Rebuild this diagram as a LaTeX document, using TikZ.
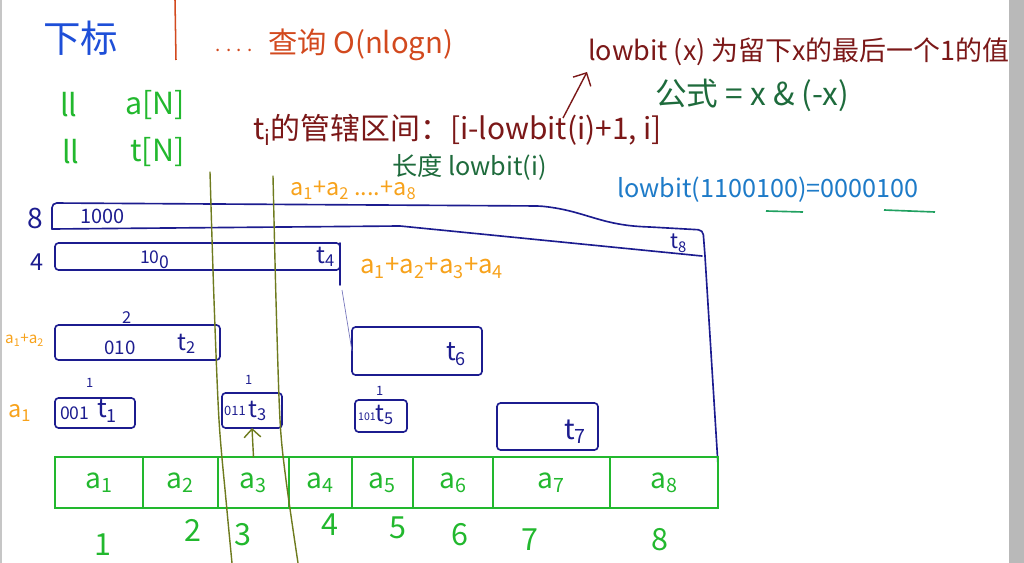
\documentclass[tikz,border=0pt]{standalone}
\usepackage{fontspec}
\setmainfont{Noto Sans CJK SC}
\usepackage{tikz}
\usetikzlibrary{arrows.meta, positioning}

\definecolor{xiablue}{HTML}{1E4FD8}
\definecolor{qred}{HTML}{D2491E}
\definecolor{maroon}{HTML}{7B1818}
\definecolor{dkgreen}{HTML}{1E6B3C}
\definecolor{lgreen}{HTML}{22B82E}
\definecolor{orng}{HTML}{F7A21B}
\definecolor{navy}{HTML}{1C1C8F}
\definecolor{sky}{HTML}{1E7BC8}
\definecolor{olivel}{HTML}{6E7B1E}
\definecolor{ulgreen}{HTML}{20A060}

\begin{document}
\begin{tikzpicture}[
  x=0.03cm, y=-0.03cm,
  txt/.style={inner sep=0pt, anchor=west, text=#1},
  fs/.style={font=\fontsize{#1}{#1}\selectfont},
  tbox/.style 2 args={
    draw=navy, line width=1.4pt, rounded corners=3pt, inner sep=0pt, outer sep=0pt,
    minimum width=#1*0.03cm, minimum height=#2*0.03cm
  },
  cell/.style={
    draw=lgreen, line width=1.4pt, inner sep=0pt, outer sep=0pt, text=lgreen,
    minimum height=51*0.03cm, font=\fontsize{24}{24}\selectfont
  },
  navyline/.style={draw=navy, line width=1.4pt, line cap=round, line join=round},
  oliveline/.style={draw=olivel, line width=1.2pt, line cap=round}
]
\useasboundingbox (0,0) rectangle (1024,563);

% window edges
\fill[gray!45] (0,0) rectangle (2,563);
\fill[gray!55] (1009,0) rectangle (1024,563);

% top left notes
\node[txt=xiablue, fs=32] (xiabiao) at (43,38) {下标};
\draw[qred, line width=1.3pt] (175,0) -- (176,60);
\node[txt=qred, fs=16] (dots) at (215,50) {. . . .};
\node[txt=qred, fs=25] (query) at (268,45) {查询 O(nlogn)};
\node[txt=lgreen, fs=26] (llA) at (60,105) {ll};
\node[txt=lgreen, fs=26] (arrA) at (125,105) {a[N]};
\node[txt=lgreen, fs=26] (llT) at (62,152) {ll};
\node[txt=lgreen, fs=26] (arrT) at (130,152) {t[N]};

% range of t_i
\node[txt=maroon, fs=25.5] (range) at (253,130) {t\textsubscript{i}的管辖区间：[i-lowbit(i)+1, i]};
\node[txt=dkgreen, fs=21.5] (length) at (392,167) {长度 lowbit(i)};

% lowbit definition
\node[txt=maroon, fs=23] (lowbitdef) at (588,52) {lowbit (x) 为留下x的最后一个1的值};
\node[txt=dkgreen, fs=27] (formula) at (655,95) {公式 = x \& (-x)};
\coordinate (arrtail) at (563,118);
\draw[maroon, line width=1.2pt, -{Straight Barb[length=3mm]}] (arrtail) -- (587,72);
\node[txt=sky, fs=21.5] (example) at (617,190) {lowbit(1100100)=0000100};
\draw[ulgreen, line width=1.4pt] (766,211) -- (803,212);
\draw[ulgreen, line width=1.4pt] (884,210) -- (935,212);

% sums
\node[txt=orng, fs=20] (sum8) at (290,190) {a\textsubscript{1}+a\textsubscript{2} ....+a\textsubscript{8}};
\node[txt=orng, fs=22] (sum4) at (360,268) {a\textsubscript{1}+a\textsubscript{2}+a\textsubscript{3}+a\textsubscript{4}};
\node[txt=orng, fs=13] (sum2) at (5,340) {a\textsubscript{1}+a\textsubscript{2}};
\node[txt=orng, fs=20] (sum1) at (8,413) {a\textsubscript{1}};

% row numbers
\node[txt=navy, fs=24] (row8) at (27,218) {8};
\node[txt=navy, fs=20] (row4) at (30,262) {4};

% t8 strip
\draw[navyline, rounded corners=4pt]
  (52,229) -- (52,203) -- (540,206) .. controls (585,211) and (600,225) .. (650,227)
  -- (703,230) -- (705,256);
\draw[navyline] (52,229) -- (400,226) -- (702,256);
\draw[navyline] (705,256) -- (718,465);
\node[txt=navy, fs=17] (lab1000) at (80,216) {1000};
\node[txt=navy, fs=18] (t8) at (670,243) {t\textsubscript{8}};

% tree boxes
\node[tbox={285}{27}] (t4) at (197.5,256.5) {};
\node[tbox={165}{35}] (t2) at (137.5,342.5) {};
\node[tbox={130}{48}] (t6) at (417,351) {};
\node[tbox={80}{30}]  (t1) at (95,413) {};
\node[tbox={60}{35}]  (t3) at (252,410.5) {};
\node[tbox={52}{32}]  (t5) at (381,416) {};
\node[tbox={101}{47}] (t7) at (547.5,426.5) {};
\draw[navyline] (t4.north east) -- ++(0,42);
\draw[navy!60, line width=0.6pt] (342,290) -- (t6.west);

\node[txt=navy, fs=15] (lab100) at (140,260) {10\raisebox{-4pt}{0}};
\node[txt=navy, fs=20] (lt4) at (316,257) {t\textsubscript{4}};
\node[txt=navy, fs=14] (len2) at (122,318) {2};
\node[txt=navy, fs=16] (lab010) at (104,348) {010};
\node[txt=navy, fs=20] (lt2) at (177,344) {t\textsubscript{2}};
\node[txt=navy, fs=22] (lt6) at (446,354) {t\textsubscript{6}};
\node[txt=navy, fs=11] (len1a) at (86,383) {1};
\node[txt=navy, fs=15] (lab001) at (60,413) {001};
\node[txt=navy, fs=22] (lt1) at (97,411) {t\textsubscript{1}};
\node[txt=navy, fs=11] (len1b) at (245,380) {1};
\node[txt=navy, fs=11] (lab011) at (224,411) {011};
\node[txt=navy, fs=20] (lt3) at (248,411) {t\textsubscript{3}};
\node[txt=navy, fs=11] (len1c) at (376,391) {1};
\node[txt=navy, fs=9]  (lab101) at (358,417) {101};
\node[txt=navy, fs=20] (lt5) at (375,415) {t\textsubscript{5}};
\node[txt=navy, fs=24] (lt7) at (564,432) {t\textsubscript{7}};

% array a
\foreach \l/\r/\n in {55/143/1, 143/218/2, 218/289/3, 289/352/4, 352/413/5, 413/493/6, 493/610/7, 610/718/8}
  \node[cell, minimum width={(\r-\l)*0.03cm}] (a\n) at ({(\l+\r)/2},482.5) {a\textsubscript{\n}};

% indices
\foreach \x/\y/\n in {103/545/1, 193/530/2, 243/535/3, 330/525/4, 398/528/5, 460/535/6, 530/540/7, 660/540/8}
  \node[text=lgreen, fs=26, inner sep=0pt] (idx\n) at (\x,\y) {\n};

% column marks
\draw[oliveline] plot[smooth] coordinates {(210,172) (214,300) (219,420) (226,500) (232,563)};
\draw[oliveline] plot[smooth] coordinates {(273,176) (276,300) (280,420) (286,480) (298,563)};
\draw[oliveline, -{Straight Barb[length=2.5mm]}] (a3.north) -- (t3.south);

\end{tikzpicture}
\end{document}
